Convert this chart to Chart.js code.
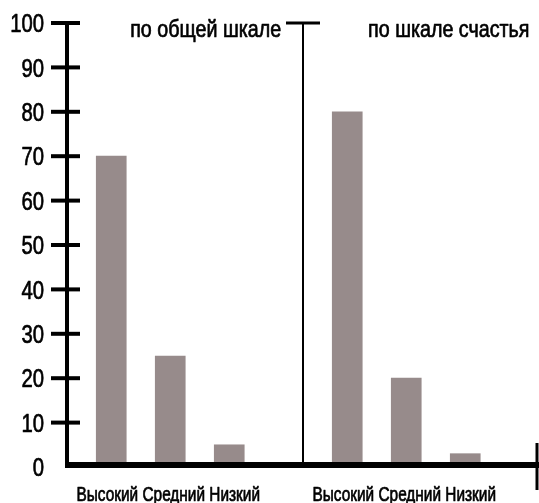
<!DOCTYPE html>
<html>
<head>
<meta charset="utf-8">
<script src="https://cdn.jsdelivr.net/npm/chart.js@4"></script>
<style>
  body { margin: 0; background: #fff; }
</style>
</head>
<body>
<canvas id="chart" width="539" height="503"></canvas>
<script>
const categories = ['Высокий', 'Средний', 'Низкий'];
const panelTitles = ['по общей шкале', 'по шкале счастья'];
const generalScale = [70, 25, 5];
const happinessScale = [80, 20, 3];
const yMin = 0;
const yMax = 100;
const yStep = 10;

const FONT = '"Liberation Sans", Arial, sans-serif';

// each panel takes 4 slots on the x scale: 3 bars + a gap
function buildPoints() {
    const points = [];
    [generalScale, happinessScale].forEach((vals, g) => {
        vals.forEach((v, i) => points.push({ x: g * 4 + i + 1, y: v }));
    });
    return points;
}

// Arial squeezed horizontally, a bit heavier, to look like Arial Narrow
function narrowText(ctx, text, x, y, size, squeeze, align, baseline) {
    ctx.save();
    ctx.font = size + 'px ' + FONT;
    ctx.textAlign = align;
    ctx.textBaseline = baseline;
    ctx.translate(x, y);
    ctx.scale(squeeze, 1);
    ctx.lineWidth = 0.7;
    ctx.lineJoin = 'round';
    ctx.fillText(text, 0, 0);
    ctx.strokeText(text, 0, 0);
    ctx.restore();
}

const axesPlugin = {
    id: 'axesPlugin',
    afterDatasetsDraw(chart) {
        const ctx = chart.ctx;
        const { left, right, top, bottom } = chart.chartArea;
        const xs = chart.scales.x;
        const ys = chart.scales.y;
        ctx.save();
        ctx.strokeStyle = '#000';
        ctx.fillStyle = '#000';

        // y axis line, crossing ticks and labels
        ctx.lineWidth = 4;
        ctx.beginPath();
        ctx.moveTo(left, top - 2);
        ctx.lineTo(left, bottom);
        ctx.stroke();
        for (const t of ys.ticks) {
            const py = ys.getPixelForValue(t.value);
            narrowText(ctx, String(t.value), left - 23, py + 2, 26, 0.78, 'right', 'middle');
            if (t.value === yMin) continue;
            ctx.lineWidth = 4;
            ctx.beginPath();
            ctx.moveTo(left - 16, py);
            ctx.lineTo(left + 13, py);
            ctx.stroke();
        }

        // x axis line
        ctx.lineWidth = 6;
        ctx.beginPath();
        ctx.moveTo(left - 2, bottom - 2);
        ctx.lineTo(right, bottom - 2);
        ctx.stroke();

        // end tick on the right
        ctx.lineWidth = 3;
        ctx.beginPath();
        ctx.moveTo(right - 2, bottom - 24);
        ctx.lineTo(right - 2, bottom + 23);
        ctx.stroke();

        // category labels under each panel
        for (const t of xs.ticks) {
            narrowText(ctx, categories.join(' '), xs.getPixelForValue(t.value) - 2, bottom + 34, 20, 0.77, 'center', 'alphabetic');
        }

        // divider between the two panels
        const dx = xs.getPixelForValue(4.25);
        ctx.lineWidth = 2;
        ctx.beginPath();
        ctx.moveTo(dx, top);
        ctx.lineTo(dx, bottom);
        ctx.stroke();
        ctx.lineWidth = 3;
        ctx.beginPath();
        ctx.moveTo(dx - 17, top);
        ctx.lineTo(dx + 17, top);
        ctx.stroke();

        // panel titles
        narrowText(ctx, panelTitles[0], xs.getPixelForValue(2.6), top + 14, 24, 0.82, 'center', 'alphabetic');
        narrowText(ctx, panelTitles[1], xs.getPixelForValue(6.72), top + 14, 24, 0.82, 'center', 'alphabetic');
        ctx.restore();
    }
};

new Chart(document.getElementById('chart'), {
    type: 'bar',
    data: {
        datasets: [{
            data: buildPoints(),
            backgroundColor: '#978b8b',
            borderWidth: 0,
            barThickness: 30
        }]
    },
    options: {
        responsive: false,
        animation: false,
        layout: { padding: { top: 23, right: 0, bottom: 0, left: 0 } },
        plugins: {
            legend: { display: false },
            tooltip: { enabled: false }
        },
        scales: {
            x: {
                type: 'linear',
                min: 0.25,
                max: 8.25,
                offset: false,
                grid: { display: false },
                border: { display: false },
                afterBuildTicks(axis) {
                    axis.ticks = [{ value: 2 }, { value: 6 }];
                },
                afterFit(axis) { axis.height = 36; },
                ticks: { display: false }
            },
            y: {
                min: yMin,
                max: yMax,
                grid: { display: false },
                border: { display: false },
                afterFit(axis) { axis.width = 67; },
                ticks: { stepSize: yStep, display: false }
            }
        }
    },
    plugins: [axesPlugin]
});
</script>
</body>
</html>
